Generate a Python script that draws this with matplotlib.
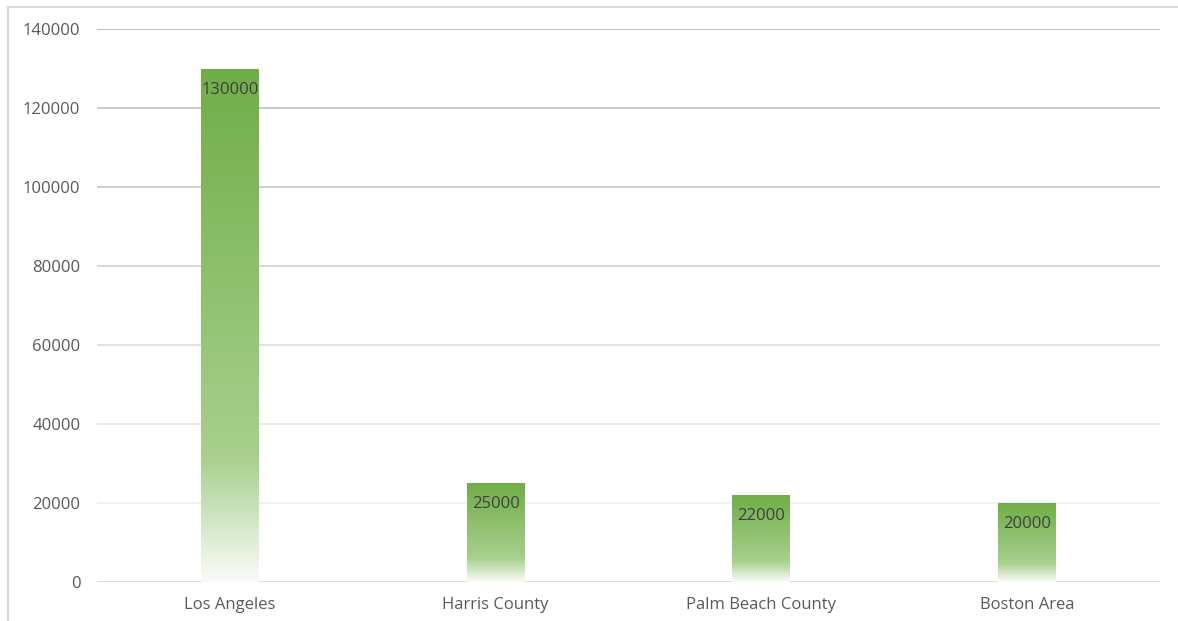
import numpy as np
import matplotlib.pyplot as plt
from matplotlib.colors import LinearSegmentedColormap
from matplotlib.lines import Line2D

categories = ['Los Angeles', 'Harris County', 'Palm Beach County', 'Boston Area']
values = [130000, 25000, 22000, 20000]
yticks = [0, 20000, 40000, 60000, 80000, 100000, 120000, 140000]

plt.rcParams['font.family'] = ['Open Sans', 'DejaVu Sans']

W, H = 1178, 621
fig = plt.figure(figsize=(W / 100, H / 100), dpi=100)
ax = fig.add_axes([97 / W, 1 - 582 / H, (1160 - 97) / W, (582 - 29) / H])

# excel style gradient, white at the bottom of each bar, green at the top
cmap = LinearSegmentedColormap.from_list('bar_grad', [
    (0.0, (250 / 255, 252 / 255, 248 / 255)),
    (0.24, (168 / 255, 208 / 255, 142 / 255)),
    (1.0, (112 / 255, 173 / 255, 71 / 255)),
])
grad = np.linspace(0, 1, 256).reshape(-1, 1)

x = np.arange(len(categories))
bars = ax.bar(x, values, width=0.218, color='none', edgecolor='none', zorder=3)
for b in bars:
    x0, w, h = b.get_x(), b.get_width(), b.get_height()
    im = ax.imshow(grad, cmap=cmap, origin='lower', aspect='auto',
                   extent=[x0, x0 + w, 0, h], zorder=3, interpolation='bicubic')
    im.set_clip_path(b)

for xi, v in zip(x, values):
    ax.annotate(str(v), (xi, v), xytext=(0, -21), textcoords='offset pixels',
                ha='center', va='center', fontsize=12, color='#404040', zorder=4)

ax.set_xlim(-0.5, len(categories) - 0.5)
ax.set_ylim(0, 140000)

# gridlines get lighter toward the bottom
for i, t in enumerate(yticks[1:]):
    g = 240 - (240 - 188) * i / (len(yticks) - 2)
    ax.axhline(t, color=(g / 255, g / 255, g / 255), lw=1.3, zorder=1)
ax.axhline(0, color='#d9d9d9', lw=1.3, zorder=2)

ax.set_yticks(yticks)
ax.set_yticklabels([str(t) for t in yticks])
ax.set_xticks(x)
ax.set_xticklabels(categories)
ax.tick_params(axis='both', length=0, labelsize=12, labelcolor='#595959')
ax.tick_params(axis='y', pad=12)
ax.tick_params(axis='x', pad=11)
for s in ax.spines.values():
    s.set_visible(False)

# chart area border (top and left visible)
fig.add_artist(Line2D([8 / W, 1.0], [1 - 7 / H, 1 - 7 / H], transform=fig.transFigure,
                      color='#d9d9d9', lw=1.5))
fig.add_artist(Line2D([8 / W, 8 / W], [0, 1 - 7 / H], transform=fig.transFigure,
                      color='#d9d9d9', lw=1.5))

fig.savefig('out.png', dpi=100)
